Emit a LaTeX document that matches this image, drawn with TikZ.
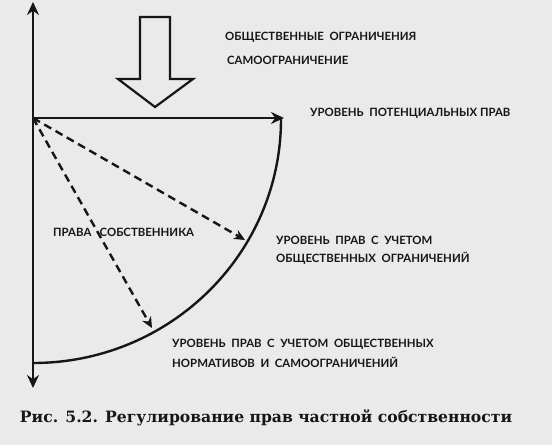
\documentclass[tikz,border=0pt]{standalone}
\usepackage{fontspec}
\setmainfont{DejaVu Serif}
\newfontfamily\lblfont{Lato}
\usetikzlibrary{arrows.meta}
\definecolor{paper}{RGB}{234,234,234}
\definecolor{ink}{RGB}{22,22,22}
\begin{document}
\begin{tikzpicture}[x=1pt,y=-1pt,
  axis/.style={draw=ink,line width=2.4pt,-{Stealth[length=13pt,width=12pt]}},
  dasharrow/.style={draw=ink,line width=2.4pt,dash pattern=on 8pt off 5pt,-{Stealth[length=11pt,width=10pt]}},
  curve/.style={draw=ink,line width=2.4pt},
  lbl/.style={anchor=west,inner sep=0pt,text=ink,font=\lblfont\bfseries\fontsize{11.4}{13}\selectfont},
  captext/.style={anchor=center,inner sep=0pt,text=ink,font=\bfseries\fontsize{15.6}{18}\selectfont}]
\fill[paper] (0,0) rectangle (552,445);
\useasboundingbox (0,0) rectangle (552,445);
% axes
\coordinate (O) at (33,118);
\coordinate (T) at (33,2);
\coordinate (B) at (33,388);
\coordinate (R) at (284,118);
\coordinate (S) at (281,119);
\draw[axis] (O) -- (T);
\draw[axis] (O) -- (B);
\draw[axis] (O) -- (R);
% arc
\draw[curve] (S) arc[start angle=0,end angle=90,x radius=248,y radius=244];
% dashed arrows
\coordinate (A1) at (245,240);
\coordinate (A2) at (152,328);
\draw[dasharrow] (O) -- (A1);
\draw[dasharrow] (O) -- (A2);
% hollow arrow
\draw[ink,line width=2.2pt,line join=miter] (140,17) -- (170,17) -- (170,79) -- (193,79) -- (155,107) -- (118,79) -- (140,79) -- cycle;
% labels
\node[lbl] (l1) at (225,37) {ОБЩЕСТВЕННЫЕ\ \ ОГРАНИЧЕНИЯ};
\node[lbl] (l2) at (227,60) {САМООГРАНИЧЕНИЕ};
\node[lbl] (l3) at (310,113) {УРОВЕНЬ\ \ ПОТЕНЦИАЛЬНЫХ ПРАВ};
\node[lbl] (l4) at (53,232) {ПРАВА\ \ \ СОБСТВЕННИКА};
\node[lbl] (l5) at (276,240) {УРОВЕНЬ\ \ ПРАВ\ \ С\ \ УЧЕТОМ};
\node[lbl] (l6) at (276,258) {ОБЩЕСТВЕННЫХ\ \ ОГРАНИЧЕНИЙ};
\node[lbl] (l7) at (172,344) {УРОВЕНЬ\ \ ПРАВ\ \ С\ \ УЧЕТОМ\ \ ОБЩЕСТВЕННЫХ};
\node[lbl] (l8) at (172,362) {НОРМАТИВОВ\ \ И\ \ САМООГРАНИЧЕНИЙ};
\node[captext] (c) at (266,418) {Рис. 5.2. Регулирование прав частной собственности};
\end{tikzpicture}
\end{document}
